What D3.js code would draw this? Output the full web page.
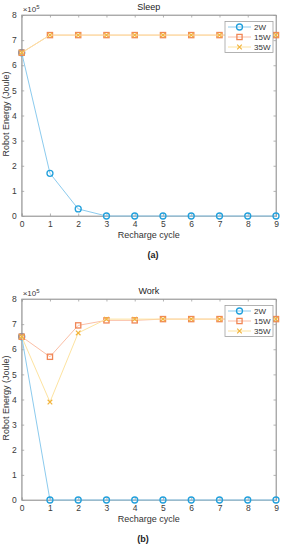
<!DOCTYPE html>
<html><head><meta charset="utf-8">
<script src="https://cdn.jsdelivr.net/npm/d3@7"></script>
<style>body{margin:0;background:#fff;} text{font-family:Arial,"Liberation Sans",sans-serif;}</style>
</head><body><svg id="c" width="284" height="550"></svg>
<script>
const cycles = [0,1,2,3,4,5,6,7,8,9];
const yTicks = [0,1,2,3,4,5,6,7,8];
const seriesNames = ["2W","15W","35W"];
const sleep2W  = [6.5,1.7,0.28,0,0,0,0,0,0,0];
const sleep15W = [6.5,7.2,7.2,7.2,7.2,7.2,7.2,7.2,7.2,7.2];
const sleep35W = [6.5,7.2,7.2,7.2,7.2,7.2,7.2,7.2,7.2,7.2];
const work2W   = [6.5,0,0,0,0,0,0,0,0,0];
const work15W  = [6.5,5.7,6.95,7.15,7.15,7.2,7.2,7.2,7.2,7.2];
const work35W  = [6.5,3.9,6.65,7.2,7.2,7.2,7.2,7.2,7.2,7.2];
const panels = [
  {title:"Sleep", label:"(a)", data:[sleep2W,sleep15W,sleep35W], top:15, lx:153},
  {title:"Work",  label:"(b)", data:[work2W,work15W,work35W], top:299, lx:143}
];
const lineCol = ["#8ccbee","#fbbfa6","#fde3a0"];
const markCol = ["#22a0dc","#f08656","#f2b43c"];
const markType = ["circle","square","x"];
const svg = d3.select("#c");
const L=21.7, R=276, H=201;
panels.forEach(p=>{
  const g = svg.append("g");
  const x = d3.scaleLinear().domain([0,9]).range([L,R]);
  const y = d3.scaleLinear().domain([0,8]).range([p.top+H,p.top]);
  g.append("rect").attr("x",L).attr("y",p.top).attr("width",R-L).attr("height",H)
   .attr("fill","none").attr("stroke","#a0a0a0").attr("stroke-width",0.8);
  const ax = g.append("g").attr("transform",`translate(0,${p.top+H})`)
   .call(d3.axisBottom(x).tickValues(cycles).tickSize(-2.5).tickPadding(5).tickFormat(d3.format("d")));
  const ay = g.append("g").attr("transform",`translate(${L},0)`)
   .call(d3.axisLeft(y).tickValues(yTicks).tickSize(-2.5).tickPadding(5).tickFormat(d3.format("d")));
  const axT = g.append("g").attr("transform",`translate(0,${p.top})`)
   .call(d3.axisTop(x).tickValues(cycles).tickSize(-2.5).tickFormat(""));
  const ayR = g.append("g").attr("transform",`translate(${R},0)`)
   .call(d3.axisRight(y).tickValues(yTicks).tickSize(-2.5).tickFormat(""));
  [ax,ay,axT,ayR].forEach(a=>{
    a.select(".domain").attr("stroke","#a0a0a0").attr("stroke-width",0.8);
    a.selectAll(".tick line").attr("stroke","#a0a0a0").attr("stroke-width",0.8);
    a.selectAll("text").attr("fill","#3a3a3a").attr("font-size",8.5).attr("font-family","Arial, Liberation Sans, sans-serif");
  });
  const ex = g.append("text").attr("x",L+1).attr("y",p.top-3).attr("font-size",8).attr("fill","#3a3a3a");
  ex.append("tspan").text("×10");
  ex.append("tspan").attr("font-size",6).attr("dy",-3).text("5");
  g.append("text").attr("x",(L+R)/2).attr("y",p.top-5).attr("text-anchor","middle")
   .attr("font-size",9).attr("fill","#222").text(p.title);
  g.append("text").attr("x",(L+R)/2).attr("y",p.top+H+22).attr("text-anchor","middle")
   .attr("font-size",9).attr("fill","#333").text("Recharge cycle");
  g.append("text").attr("transform",`translate(9,${p.top+H/2-1.5}) rotate(-90)`).attr("text-anchor","middle")
   .attr("font-size",9).attr("fill","#333").text("Robot Energy (Joule)");
  g.append("text").attr("x",p.lx).attr("y",p.top+H+42).attr("text-anchor","middle")
   .attr("font-size",9).attr("font-weight","bold").attr("font-family","Liberation Serif, Times New Roman, serif")
   .attr("fill","#222").text(p.label);
  const line = d3.line().x((d,i)=>x(cycles[i])).y(d=>y(d));
  function marker(sel,t,c,cx,cy){
    if(t==="circle") sel.append("circle").attr("cx",cx).attr("cy",cy).attr("r",3).attr("fill","none").attr("stroke",c).attr("stroke-width",1.3);
    else if(t==="square") sel.append("rect").attr("x",cx-2.6).attr("y",cy-2.6).attr("width",5.2).attr("height",5.2).attr("fill","none").attr("stroke",c).attr("stroke-width",1.3);
    else sel.append("path").attr("d",`M${cx-2.3},${cy-2.3}L${cx+2.3},${cy+2.3}M${cx-2.3},${cy+2.3}L${cx+2.3},${cy-2.3}`).attr("stroke",c).attr("stroke-width",1.2);
  }
  p.data.forEach((s,k)=>{
    g.append("path").datum(s).attr("d",line).attr("fill","none").attr("stroke",lineCol[k]).attr("stroke-width",1);
    s.forEach((v,i)=>marker(g,markType[k],markCol[k],x(cycles[i]),y(v)));
  });
  const lg = g.append("g");
  const lx=225, ly=p.top+6.5;
  lg.append("rect").attr("x",lx).attr("y",ly).attr("width",48).attr("height",31).attr("fill","#fff").attr("stroke","#a0a0a0").attr("stroke-width",0.8);
  seriesNames.forEach((n,k)=>{
    const yy = ly+5.5+k*10;
    lg.append("line").attr("x1",lx+3).attr("x2",lx+26).attr("y1",yy).attr("y2",yy).attr("stroke",lineCol[k]).attr("stroke-width",1);
    marker(lg,markType[k],markCol[k],lx+14.5,yy);
    lg.append("text").attr("x",lx+29).attr("y",yy+3).attr("font-size",8).attr("fill","#333").text(n);
  });
});
</script></body></html>
